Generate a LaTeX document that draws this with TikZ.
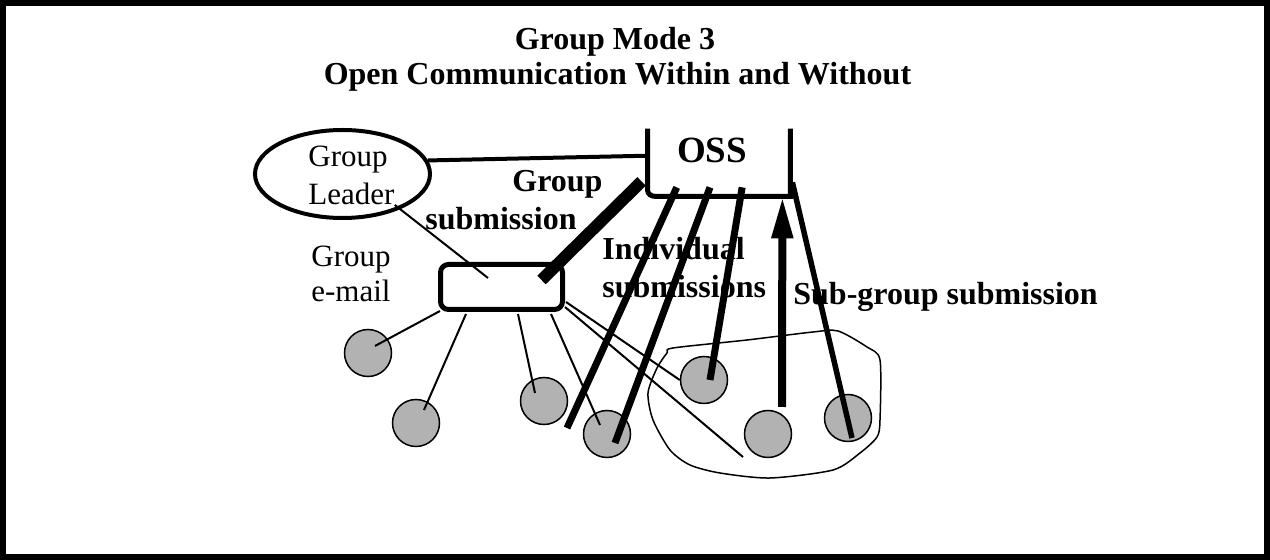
\documentclass[tikz,border=0pt]{standalone}
\usepackage{fontspec}
\setmainfont{Liberation Serif}
\usetikzlibrary{calc,arrows.meta,shapes.geometric}
\definecolor{circgray}{RGB}{178,178,178}
\begin{document}
\begin{tikzpicture}[x=0.5pt,y=-0.5pt,
  boldlbl/.style={font=\fontsize{16}{19}\selectfont\bfseries, inner sep=0pt},
  plainlbl/.style={font=\fontsize{15.5}{18}\selectfont, inner sep=0pt},
  member/.style={circle, draw, line width=0.75pt, fill=circgray, minimum size=23.5pt, inner sep=0pt},
  thinlink/.style={line width=1pt},
  thicklink/.style={line width=3.5pt},
  boxline/.style={line width=2.5pt},
]
\useasboundingbox (0,0) rectangle (1270,560);
\draw[line width=2.75pt] (3,3) rectangle (1267,557);

% title
\node[boldlbl, anchor=base] (t1) at (615,50) {Group Mode 3};
\node[boldlbl, anchor=base] (t2) at (617.5,85) {Open Communication Within and Without};

% group leader ellipse
\node[ellipse, draw, line width=2pt, minimum width=87.5pt, minimum height=44pt, inner sep=0pt] (ell) at (342.5,174) {};
\node[plainlbl, anchor=base west] (gl1) at (308,167) {Group};
\node[plainlbl, anchor=base west] (ldr) at (308,205) {Leader};

% group e-mail label
\node[plainlbl, anchor=base west] (ge1) at (311,267) {Group};
\node[plainlbl, anchor=base west] (ge2) at (311,302) {e-mail};

% bold labels
\node[boldlbl, anchor=base west] (gs1) at (512,192) {Group};
\node[boldlbl, anchor=base west] (gs2) at (425,230) {submission};
\node[boldlbl, anchor=base west] (is1) at (602,260) {Individual};
\node[boldlbl, anchor=base west] (is2) at (602,298) {submissions};
\node[boldlbl, anchor=base west] (sg) at (793,305) {Sub-group submission};

% OSS
\node[minimum width=71pt, minimum height=33.5pt, inner sep=0pt] (oss) at (719,162.5) {};
\node[font=\fontsize{18.5}{22}\selectfont\bfseries, inner sep=0pt, anchor=base] (osslbl) at (712,163) {OSS};
\draw[boxline] (oss.north west) -- ([yshift=3pt]oss.south west) to[out=-90,in=180] ([xshift=4pt]oss.south west) -- (oss.south east) -- (oss.north east);

% group e-mail box
\node[draw, boxline, rounded corners=4pt, fill=white, minimum width=61pt, minimum height=22.5pt, inner sep=0pt] (mail) at (501.5,287) {};

% sub-group blob
\draw[line width=0.75pt] plot[smooth cycle, tension=0.45] coordinates {
 (673,348) (747,340) (813,332) (838,331) (867,347) (880,360) (880,420) (877,437)
 (860,453) (833,470) (770,478) (720,473) (690,465) (670,450) (653,420) (648,393)
 (657,368) (667,353)};

% members
\node[member] (c1) at (368,353) {};
\node[member] (c2) at (416,423) {};
\node[member] (c3) at (544,401) {};
\node[member] (c4) at (607,434) {};
\node[member] (c5) at (704,380) {};
\node[member] (c6) at (768,434) {};
\node[member] (c7) at (848,418) {};

% free ends
\coordinate (aend) at ($(c4.center)+(-40,-6)$);
\coordinate (l2end) at ($(c6.center)+(-25,23)$);

% leader to OSS
\draw[line width=2pt] (ell.9) -- ($(oss.north west)!0.4!(oss.south west)$);
% leader to e-mail
\draw[thinlink] (ldr.base east) -- ($(mail.center)+(-13.5,-9)$);
% group submission
\draw[line width=6pt] ($(mail.center)+(40,-7)$) -- ($(oss.south west)+(-6,-15)$);

% e-mail to members
\draw[thinlink] ($(mail.south west)+(2,-1)$) -- ($(c1.center)+(7,-7)$);
\draw[thinlink] ($(mail.south west)+(28,2)$) -- ($(c2.center)+(8,-13)$);
\draw[thinlink] ($(mail.south west)+(80,2)$) -- ($(c3.center)+(-9,-8)$);
\draw[thinlink] ($(mail.south west)+(113,2)$) -- ($(c4.center)+(-7,-9)$);
\draw[thinlink] ($(mail.east)+(1,15)$) -- (c5.west);
\draw[thinlink] ($(mail.east)+(0,20)$) -- (l2end);

% individual submissions
\draw[thicklink] ($(oss.south west)!0.204!(oss.south east)+(0,-9)$) -- (aend);
\draw[thicklink] ($(oss.south west)!0.437!(oss.south east)+(0,-9)$) -- ($(c4.center)+(8,9)$);
\draw[thicklink] ($(oss.south west)!0.662!(oss.south east)+(0,-9)$) -- ($(c5.center)+(6,0)$);
\draw[line width=2.75pt] ($(oss.south east)+(2,-14)$) -- ($(c7.center)+(4,20)$);

% sub-group submission arrow
\draw[line width=4pt, -{Triangle[width=10pt,length=21pt]}] ($(c6.center)+(14,-27)$) -- ($(oss.south west)!0.944!(oss.south east)$);
\end{tikzpicture}
\end{document}
